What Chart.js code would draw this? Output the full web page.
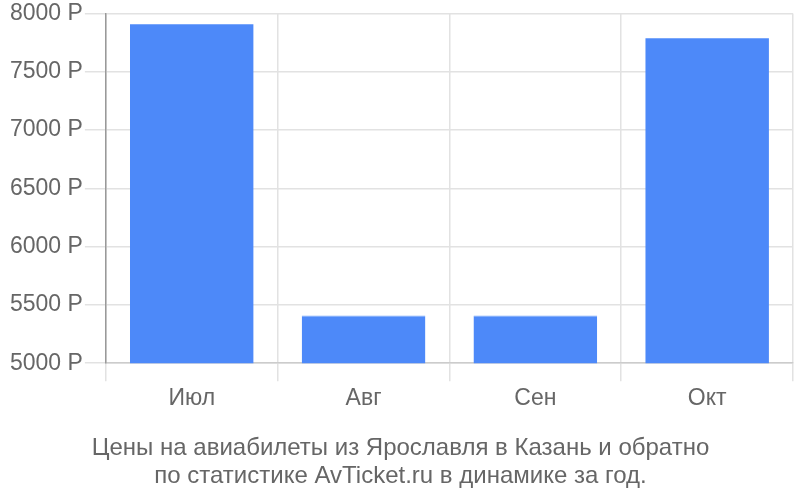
<!DOCTYPE html>
<html>
<head>
<meta charset="utf-8">
<script src="https://cdn.jsdelivr.net/npm/chart.js@4"></script>
<style>
  body { margin: 0; background: #fff; }
  #wrap { width: 800px; height: 500px; }
</style>
</head>
<body>
<div id="wrap"><canvas id="graficoPrecos"></canvas></div>
<script>
// Данные графика
const mesyacy = ['Июл', 'Авг', 'Сен', 'Окт'];
const ceny = [7910, 5410, 5410, 7790];
const titulLines = [
    'Цены на авиабилеты из Ярославля в Казань и обратно',
    'по статистике AvTicket.ru в динамике за год.'
];

function criarGrafico() {
    let ctx = document.getElementById('graficoPrecos').getContext('2d');

    new Chart(ctx, {
        type: 'bar',
        data: {
            labels: mesyacy,
            datasets: [{
                data: ceny,
                backgroundColor: '#4d89f9',
                borderColor: '#7aa7fb',
                borderWidth: { top: 1, left: 0, right: 0, bottom: 0 },
                barPercentage: 0.8,
                categoryPercentage: 0.9
            }]
        },
        options: {
            responsive: true,
            maintainAspectRatio: false,
            animation: false,
            layout: {
                padding: { top: 0, right: 7, left: 8, bottom: 10 }
            },
            scales: {
                x: {
                    grid: {
                        color: '#e2e2e2',
                        lineWidth: 1.5,
                        tickLength: 18,
                        offset: true
                    },
                    border: { display: true, color: '#cccccc', width: 1.5 },
                    ticks: {
                        color: '#666',
                        font: { family: 'Liberation Sans, Arial', size: 23 },
                        padding: 4
                    }
                },
                y: {
                    min: 5000,
                    max: 8000,
                    grid: {
                        color: '#e2e2e2',
                        lineWidth: 1.5,
                        tickLength: 21
                    },
                    border: { display: true, color: '#999999', width: 1.5 },
                    ticks: {
                        stepSize: 500,
                        color: '#666',
                        padding: 2,
                        font: { family: 'Liberation Sans, Arial', size: 23, lineHeight: 1.0 },
                        callback: (v) => v + ' Р'
                    }
                }
            },
            plugins: {
                legend: { display: false },
                tooltip: { enabled: false },
                title: {
                    display: true,
                    position: 'bottom',
                    text: titulLines,
                    color: '#666',
                    font: { family: 'Liberation Sans, Arial', size: 24, weight: 'normal', lineHeight: 1.17 },
                    padding: { top: 17, bottom: 0 }
                }
            }
        }
    });
}

document.addEventListener('DOMContentLoaded', () => {
    criarGrafico();
});
</script>
</body>
</html>
